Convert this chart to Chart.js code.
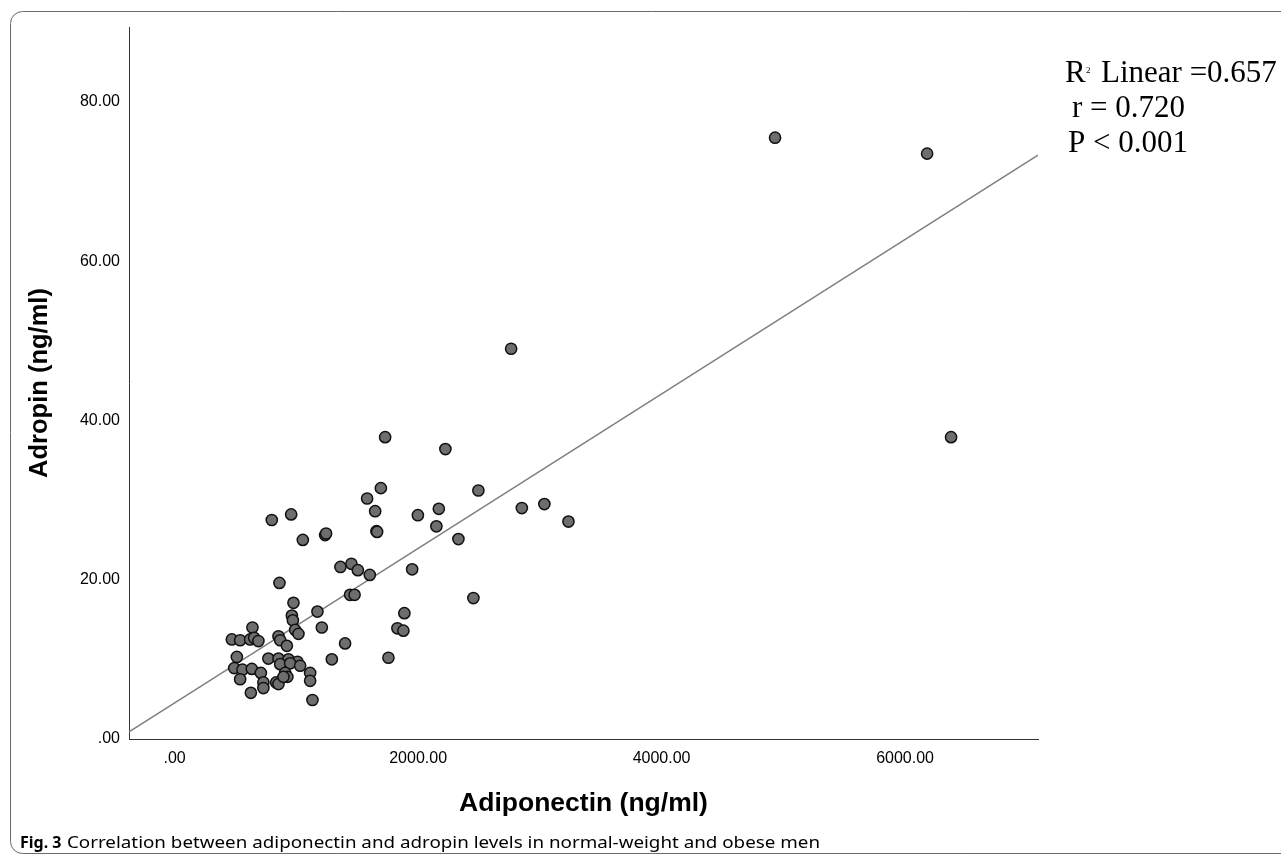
<!DOCTYPE html>
<html><head><meta charset="utf-8">
<script src="https://cdn.jsdelivr.net/npm/chart.js@4.4.1/dist/chart.umd.min.js"></script>
<style>html,body{margin:0;padding:0;background:#fff;overflow:hidden}#wrap{position:relative;width:1281px;height:860px}canvas{display:block}</style>
</head><body><div id="wrap"><canvas id="c" width="1281" height="860"></canvas></div>
<script>
const adiponectin = [4932,6181,6378,2764,1729,2224,1694,1581,2495,1647,1998,2170,2150,1658,1663,2331,2852,3037,3235,798,957,1053,1236,1244,1362,1452,1505,1603,1951,861,1441,1478,2454,976,1173,1887,1830,1879,1756,1209,1400,1291,963,971,639,990,1017,470,538,620,653,688,853,867,922,511,770,853,935,1009,867,949,1031,489,557,634,708,908,926,1113,1113,538,729,729,834,853,626,1132,894];
const adropin = [75.5,73.5,37.9,49.0,37.9,36.4,31.5,30.2,31.2,28.6,28.1,28.9,26.7,26.1,26.0,25.1,29.0,29.5,27.3,27.5,28.2,25.0,25.6,25.8,21.6,22.0,21.2,20.6,21.3,19.6,18.1,18.1,17.7,17.1,16.0,15.8,13.9,13.6,10.2,14.0,12.0,10.0,15.5,14.9,14.0,13.7,13.2,12.5,12.4,12.5,12.7,12.3,12.9,12.4,11.7,10.3,10.1,10.1,10.0,9.7,9.4,9.5,9.2,8.9,8.7,8.8,8.3,8.3,7.8,8.3,7.3,7.5,7.1,6.4,7.1,6.9,5.8,4.9,7.8];
const xTickValues = [0,2000,4000,6000];
const xTickLabels = ['.00','2000.00','4000.00','6000.00'];
const yTickValues = [0,20,40,60,80];
const yTickLabels = ['.00','20.00','40.00','60.00','80.00'];
const xRange = [-375, 7092];
const yRange = [0, 89.4];
const fitIntercept = 4.53;
const fitSlope = 0.0097;
const xTitle = 'Adiponectin (ng/ml)';
const yTitle = 'Adropin (ng/ml)';
const statsR2 = ['R', '2', 'Linear =0.657'];
const statsLines = ['r = 0.720', 'P < 0.001'];
const captionBold = 'Fig. 3';
const captionText = 'Correlation between adiponectin and adropin levels in normal-weight and obese men';

const points = adiponectin.map((x, i) => ({x: x, y: adropin[i]}));
const fitLine = xRange.map(x => ({x: x, y: fitIntercept + fitSlope * x}));

const decor = {
  id: 'decor',
  beforeDraw(chart) {
    const ctx = chart.ctx;
    ctx.save();
    ctx.fillStyle = '#fff';
    ctx.fillRect(0, 0, chart.width, chart.height);
    ctx.restore();
  },
  afterDraw(chart) {
    const ctx = chart.ctx;
    ctx.save();
    // frame
    ctx.strokeStyle = '#6a6a6a';
    ctx.lineWidth = 1;
    ctx.beginPath();
    ctx.roundRect(10.5, 11.5, 1290, 842, 12);
    ctx.stroke();
    // stats text
    ctx.fillStyle = '#000';
    ctx.textBaseline = 'alphabetic';
    ctx.textAlign = 'left';
    ctx.font = '31px "Liberation Serif", "Times New Roman", serif';
    ctx.fillText(statsR2[0], 1065, 82);
    ctx.font = '9px "Liberation Serif", serif';
    ctx.fillText(statsR2[1], 1086, 73);
    ctx.font = '31px "Liberation Serif", "Times New Roman", serif';
    ctx.fillText(statsR2[2], 1101, 82);
    ctx.fillText(statsLines[0], 1072, 117);
    ctx.fillText(statsLines[1], 1068, 152);
    // caption
    ctx.font = 'bold 16px "Noto Sans", sans-serif';
    ctx.fillText(captionBold, 20, 848);
    ctx.font = '16.5px "Noto Sans", sans-serif';
    const w = ctx.measureText(captionText).width;
    const sx = 753 / w;
    ctx.setTransform(sx, 0, 0, 1, 67, 848);
    ctx.fillText(captionText, 0, 0);
    ctx.restore();
  }
};

new Chart(document.getElementById('c'), {
  type: 'scatter',
  data: {
    datasets: [
      {
        label: 'Adropin vs Adiponectin',
        data: points,
        order: 0,
        pointRadius: 5.6,
        pointHoverRadius: 5.6,
        pointBackgroundColor: '#6e6e6e',
        pointBorderColor: '#111',
        pointBorderWidth: 1.5
      },
      {
        label: 'Linear fit',
        type: 'line',
        data: fitLine,
        order: 1,
        showLine: true,
        borderColor: '#7f7f7f',
        borderWidth: 1.5,
        pointRadius: 0,
        fill: false
      }
    ]
  },
  options: {
    responsive: false,
    animation: false,
    devicePixelRatio: 1,
    layout: {padding: {left: 0, right: 243, top: 27, bottom: 0}},
    plugins: {legend: {display: false}, tooltip: {enabled: false}},
    scales: {
      x: {
        type: 'linear',
        min: xRange[0],
        max: xRange[1],
        afterBuildTicks: s => { s.ticks = xTickValues.map(v => ({value: v})); },
        afterFit: s => { s.height = 121; },
        grid: {display: false, drawTicks: false},
        border: {display: true, color: '#333', width: 1},
        ticks: {
          autoSkip: false, maxRotation: 0, padding: 10,
          color: '#000',
          font: {family: '"Liberation Sans", Arial, sans-serif', size: 16},
          callback: v => xTickLabels[xTickValues.indexOf(v)]
        },
        title: {
          display: true, text: xTitle, color: '#000',
          font: {family: '"Liberation Sans", Arial, sans-serif', size: 26.5, weight: 'bold'},
          padding: {top: 0, bottom: 40}
        }
      },
      y: {
        type: 'linear',
        min: yRange[0],
        max: yRange[1],
        afterBuildTicks: s => { s.ticks = yTickValues.map(v => ({value: v})); },
        afterFit: s => { s.width = 129; },
        grid: {display: false, drawTicks: false},
        border: {display: true, color: '#333', width: 1},
        ticks: {
          autoSkip: false, padding: 9,
          color: '#000',
          font: {family: '"Liberation Sans", Arial, sans-serif', size: 16},
          callback: v => yTickLabels[yTickValues.indexOf(v)]
        },
        title: {
          display: true, text: yTitle, color: '#000',
          font: {family: '"Liberation Sans", Arial, sans-serif', size: 25.5, weight: 'bold'},
          padding: {top: 25, bottom: 0}
        }
      }
    }
  },
  plugins: [decor]
});
</script>
</body></html>
